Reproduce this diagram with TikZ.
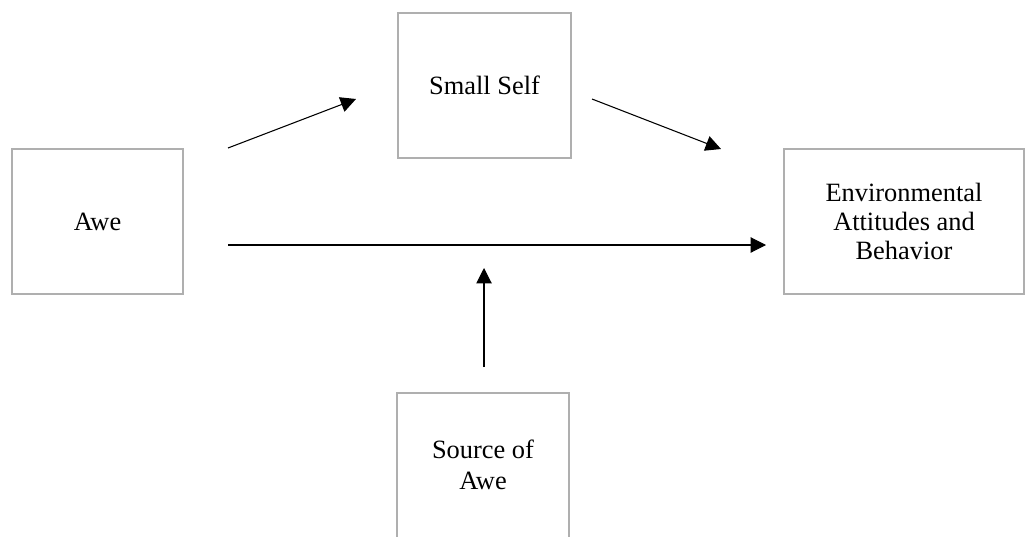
\documentclass[tikz,border=0pt]{standalone}
\usepackage{fontspec}
\setmainfont{Liberation Serif}
\usetikzlibrary{arrows.meta}

\tikzset{
    varbox/.style={draw={rgb, 255:red, 175; green, 175; blue, 175 }, line width=1.5pt, inner sep=0pt, minimum height=108.75pt, align=center, font=\fontsize{19.8}{21.8}\selectfont},
    pathline/.style={line width=0.8pt, -{Triangle[length=11.5pt,width=11.5pt]}}
}

\begin{document}
\begin{tikzpicture}[x=0.75pt,y=0.75pt,yscale=-1,xscale=1]
    \useasboundingbox (0,0) rectangle (1034,536);
    \clip (0,0) rectangle (1034,536);
    
    %Shape: Rectangle [id:awe] 
    \node [varbox, minimum width=128.25pt] (awe) at (97.5,221.5) {Awe};
    %Shape: Rectangle [id:smallself] 
    \node [varbox, minimum width=129.75pt] (smallself) at (484.5,85.5) {Small Self};
    %Shape: Rectangle [id:envatt] 
    \node [varbox, minimum width=180pt] (envatt) at (904,221.5) {Environmental\\Attitudes and\\Behavior};
    %Shape: Rectangle [id:source] 
    \node [varbox, minimum width=129pt, font=\fontsize{19.8}{23.5}\selectfont] (source) at (483,465) {Source of\\Awe};
    
    %Arrow ends
    \coordinate (aweup) at (228,148);
    \coordinate (selfin) at (356,99);
    \coordinate (selfout) at (592,99);
    \coordinate (envup) at (721,149);
    \coordinate (aweright) at (228,245);
    \coordinate (envin) at (766,245);
    \coordinate (sourceup) at (484,367);
    \coordinate (moderate) at (484,268);
    
    %Straight Lines [id:paths] 
    \draw [pathline] (aweup) -- (selfin);
    \draw [pathline] (selfout) -- (envup);
    \draw [pathline] (aweright) -- (envin);
    \draw [pathline] (sourceup) -- (moderate);
    
\end{tikzpicture}
\end{document}
